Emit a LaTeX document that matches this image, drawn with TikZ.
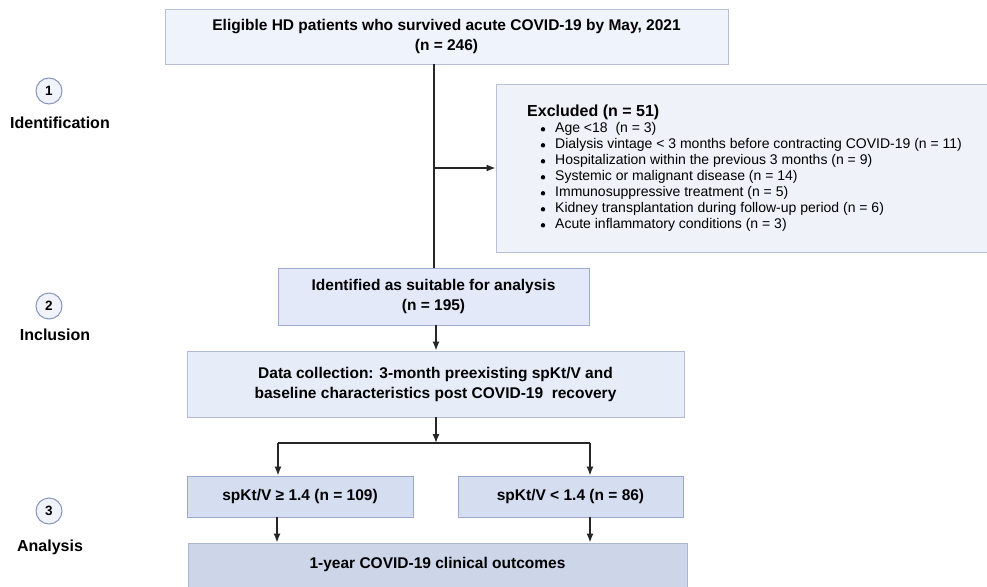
\documentclass[tikz,border=0pt]{standalone}
\usepackage{fontspec}
\setmainfont{Liberation Sans}
\usetikzlibrary{arrows.meta}
\definecolor{topfill}{HTML}{EFF3FB}
\definecolor{topdraw}{HTML}{B4BEDA}
\definecolor{exfill}{HTML}{EFF2F9}
\definecolor{exdraw}{HTML}{B9C2D9}
\definecolor{idfill}{HTML}{E3E9F8}
\definecolor{iddraw}{HTML}{9FADD3}
\definecolor{dafill}{HTML}{E6ECF8}
\definecolor{dadraw}{HTML}{B0BCDA}
\definecolor{spfill}{HTML}{D5DDF0}
\definecolor{spdraw}{HTML}{9AA8CF}
\definecolor{btfill}{HTML}{CDD5E9}
\definecolor{btdraw}{HTML}{AAB5D3}
\definecolor{circfill}{HTML}{F0F3FA}
\definecolor{circdraw}{HTML}{8796BE}
\definecolor{linecol}{HTML}{262626}
\tikzset{
  boxstyle/.style={rectangle, inner sep=0pt, align=center, font=\fontsize{15.5}{20}\selectfont\bfseries, line width=0.9pt},
  conn/.style={draw=linecol, line width=1.4pt},
  arr/.style={conn, -{Latex[length=9pt,width=7pt]}},
  stagecirc/.style={circle, draw=circdraw, fill=circfill, line width=1pt, minimum size=26pt, inner sep=0pt, font=\fontsize{13.5}{13.5}\selectfont\bfseries},
  stagelabel/.style={font=\fontsize{16}{16}\selectfont\bfseries, inner sep=0pt},
  bul/.style={font=\fontsize{14}{16}\selectfont, inner sep=0pt, anchor=west}
}
\begin{document}
\begin{tikzpicture}[x=1pt,y=-1pt]
\useasboundingbox (0,0) rectangle (987,586);
% boxes
\node[boxstyle, draw=topdraw, fill=topfill, minimum width=563pt, minimum height=55pt] (top) at (446.5,36.5) {Eligible HD patients who survived acute COVID-19 by May, 2021\\(n = 246)};
\node[rectangle, draw=exdraw, fill=exfill, line width=0.9pt, minimum width=496pt, minimum height=168pt, inner sep=0pt] (excl) at (744,168) {};
\node[boxstyle, draw=iddraw, fill=idfill, minimum width=311pt, minimum height=57pt] (ident) at (433.5,296.5) {Identified as suitable for analysis\\(n = 195)};
\node[boxstyle, draw=dadraw, fill=dafill, minimum width=497pt, minimum height=66pt] (data) at (435.5,384) {Data collection: 3-month preexisting spKt/V and\\baseline characteristics post COVID-19\ \ recovery};
\node[boxstyle, draw=spdraw, fill=spfill, minimum width=226pt, minimum height=41pt] (spa) at (300,496.5) {spKt/V ≥ 1.4 (n = 109)};
\node[boxstyle, draw=spdraw, fill=spfill, minimum width=225pt, minimum height=41pt] (spb) at (570.5,496.5) {spKt/V < 1.4 (n = 86)};
\node[rectangle, draw=btdraw, fill=btfill, line width=0.9pt, minimum width=499pt, minimum height=50pt, inner sep=0pt] (bot) at (437.5,568) {};
\node[boxstyle, anchor=center] (bottxt) at (437.5,564.5) {1-year COVID-19 clinical outcomes};
% excluded text
\node[font=\fontsize{16}{16}\selectfont\bfseries, inner sep=0pt, anchor=west] (exhead) at (527,112) {Excluded (n = 51)};
\foreach \i/\t in {0/{Age <18\ \ (n = 3)},
  1/{Dialysis vintage < 3 months before contracting COVID-19 (n = 11)},
  2/{Hospitalization within the previous 3 months (n = 9)},
  3/{Systemic or malignant disease (n = 14)},
  4/{Immunosuppressive treatment (n = 5)},
  5/{Kidney transplantation during follow-up period (n = 6)},
  6/{Acute inflammatory conditions (n = 3)}}{
  \fill[black] (543,129.3+16*\i) circle (2.2pt);
  \node[bul] (ex\i) at (555,129.3+16*\i) {\t};
}
% stage markers
\node[stagecirc] (c1) at (49,91) {1};
\node[stagelabel] (l1) at (60,123) {Identification};
\node[stagecirc] (c2) at (49,306) {2};
\node[stagelabel] (l2) at (55,335) {Inclusion};
\node[stagecirc] (c3) at (49,511) {3};
\node[stagelabel] (l3) at (50,547) {Analysis};
% connectors
\coordinate (vtop) at (434,64);
\coordinate (vbot) at (434,268);
\coordinate (br) at (434,168);
\draw[conn] (vtop) -- (vbot);
\draw[arr] (br) -- (br -| excl.west);
\draw[arr] (ident.south -| 436,0) -- (data.north -| 436,0);
\coordinate (hmid) at (436,443);
\coordinate (hl) at (278,443);
\coordinate (hr) at (590,443);
\draw[arr] (data.south -| hmid) -- (hmid);
\draw[conn] (hl) -- (hr);
\draw[arr] (hl) -- (hl |- spa.north);
\draw[arr] (hr) -- (hr |- spb.north);
\draw[arr] (spa.south -| 277,0) -- (bot.north -| 277,0);
\draw[arr] (spb.south -| 590,0) -- (bot.north -| 590,0);
\end{tikzpicture}
\end{document}
